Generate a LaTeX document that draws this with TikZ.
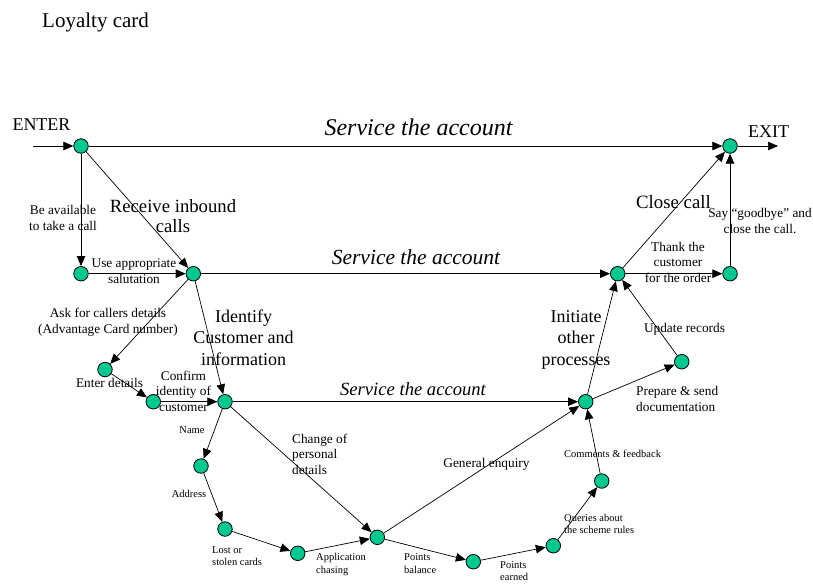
\documentclass[tikz,border=0pt]{standalone}
\usepackage{fontspec}
\setmainfont{Liberation Serif}
\usetikzlibrary{arrows.meta}
\definecolor{dotgreen}{RGB}{0,200,145}
\begin{document}
\begin{tikzpicture}[x=1pt,y=-1pt,
  dot/.style={circle,draw=black,fill=dotgreen,minimum size=14.5pt,inner sep=0pt,line width=0.8pt},
  arr/.style={-{Triangle[length=10pt,width=8.5pt]},line width=0.7pt},
  fsmall/.style={font=\fontsize{10.5}{12.5}\selectfont,inner sep=0pt},
  fmed/.style={font=\fontsize{13.3}{15.5}\selectfont,inner sep=0pt},
  fbig/.style={font=\fontsize{18}{21.5}\selectfont,inner sep=0pt},
  cl/.style={align=center,anchor=base},
  ll/.style={align=left,anchor=base west}]
\useasboundingbox (0,0) rectangle (813,584);
% title
\node[font=\fontsize{21}{24}\selectfont,inner sep=0pt,anchor=base west] (title) at (42,27) {Loyalty card};
\node[font=\fontsize{18}{21}\selectfont,inner sep=0pt,anchor=base] (enter) at (41.5,130) {ENTER};
\node[font=\fontsize{18}{21}\selectfont,inner sep=0pt,anchor=base west] (exit) at (748,137.5) {EXIT};
% nodes
\node[dot] (A) at (81,146) {};
\node[dot] (B) at (81,273.7) {};
\node[dot] (C) at (193.3,273.7) {};
\node[dot] (D) at (730,146) {};
\node[dot] (E) at (617.7,273.7) {};
\node[dot] (F) at (730,273.7) {};
\node[dot] (G) at (105,369.5) {};
\node[dot] (H) at (153.3,401.7) {};
\node[dot] (I) at (225,401.7) {};
\node[dot] (J) at (585.7,401.7) {};
\node[dot] (K) at (681.7,361.7) {};
\node[dot] (L) at (201,466) {};
\node[dot] (M) at (225,529) {};
\node[dot] (N) at (297.7,553.3) {};
\node[dot] (O) at (377.3,537.3) {};
\node[dot] (P) at (473.3,561.7) {};
\node[dot] (Q) at (553.3,545.7) {};
\node[dot] (R) at (601.7,481) {};
\coordinate (in) at (33,146);
\coordinate (out) at (778,146);
% connectors
\draw[arr] (in) -- (A);
\draw[arr] (D) -- (out);
\draw[arr] (A) -- (D);
\draw[arr] (A) -- (B);
\draw[arr] (A) -- (C);
\draw[arr] (B) -- (C);
\draw[arr] (C) -- (E);
\draw[arr] (C) -- (G);
\draw[arr] (C) -- (I);
\draw[arr] (G) -- (H);
\draw[arr] (H) -- (I);
\draw[arr] (I) -- (J);
\draw[arr] (I) -- (L);
\draw[arr] (L) -- (M);
\draw[arr] (M) -- (N);
\draw[arr] (N) -- (O);
\draw[arr] (I) -- (O);
\draw[arr] (O) -- (J);
\draw[arr] (O) -- (P);
\draw[arr] (P) -- (Q);
\draw[arr] (Q) -- (R);
\draw[arr] (R) -- (J);
\draw[arr] (J) -- (K);
\draw[arr] (K) -- (E);
\draw[arr] (J) -- (E);
\draw[arr] (E) -- (D);
\draw[arr] (E) -- (F);
\draw[arr] (F) -- (D);
% service labels
\node[font=\fontsize{24}{28}\selectfont\itshape,inner sep=0pt,anchor=base] (s1) at (418.5,135) {Service the account};
\node[font=\fontsize{21.5}{25}\selectfont\itshape,inner sep=0pt,anchor=base] (s2) at (416,264) {Service the account};
\node[font=\fontsize{18.6}{22}\selectfont\itshape,inner sep=0pt,anchor=base] (s3) at (413,395) {Service the account};
% big labels
\node[font=\fontsize{18.7}{20}\selectfont,inner sep=0pt,cl] (l1) at (173,232) {Receive inbound\\calls};
\node[fbig,cl] (l2) at (243.5,365) {Identify\\Customer and\\information};
\node[fbig,cl] (l3) at (576,365) {Initiate\\other\\processes};
\node[font=\fontsize{18.8}{22}\selectfont,inner sep=0pt,cl] (l4) at (673.5,208) {Close call};
% medium labels
\node[fmed,cl] (m1) at (63,230) {Be available\\to take a call};
\node[fmed,cl] (m2) at (134,283) {Use appropriate\\salutation};
\node[fmed,cl,font=\fontsize{13.3}{16}\selectfont] (m3) at (108,333) {Ask for callers details\\(Advantage Card number)};
\node[fmed,cl] (m4) at (109.5,387) {Enter details};
\node[fmed,cl] (m5) at (183.5,411) {Confirm\\identity of\\customer};
\node[fmed,cl] (m6) at (486.5,467) {General enquiry};
\node[fmed,ll] (m7) at (292,474) {Change of\\personal\\details};
\node[fmed,ll,font=\fontsize{13.3}{16}\selectfont] (m8) at (636,411) {Prepare \& send\\documentation};
\node[fmed,cl] (m9) at (684.5,332) {Update records};
\node[fmed,cl,font=\fontsize{13.3}{16}\selectfont] (m10) at (760,233) {Say “goodbye” and\\close the call.};
\node[fmed,cl] (m11) at (678,282) {Thank the\\customer\\for the order};
% small labels
\node[fsmall,cl] (n1) at (192,433) {Name};
\node[fsmall,cl] (n2) at (189,497) {Address};
\node[fsmall,ll,font=\fontsize{10.5}{12}\selectfont] (n3) at (212,565) {Lost or\\stolen cards};
\node[fsmall,ll,font=\fontsize{10.5}{13}\selectfont] (n4) at (316,573) {Application\\chasing};
\node[fsmall,ll,font=\fontsize{10.5}{13}\selectfont] (n5) at (404,573) {Points\\balance};
\node[fsmall,ll,font=\fontsize{10.5}{12}\selectfont] (n6) at (500,580.5) {Points\\earned};
\node[fsmall,ll,font=\fontsize{10.5}{12}\selectfont] (n7) at (564,533) {Queries about\\the scheme rules};
\node[fsmall,ll] (n8) at (564,457) {Comments \& feedback};
\end{tikzpicture}
\end{document}
